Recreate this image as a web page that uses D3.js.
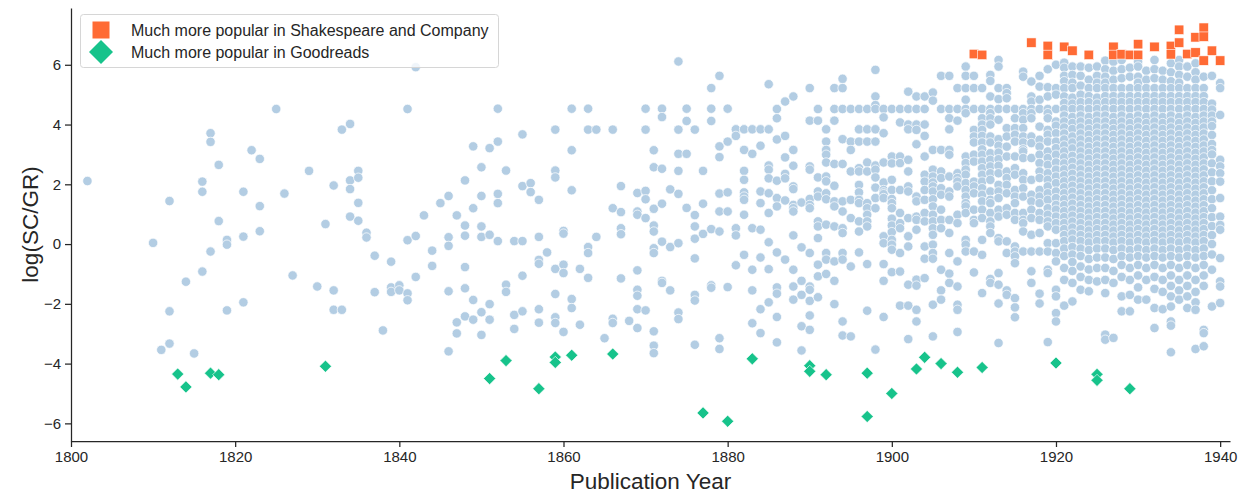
<!DOCTYPE html>
<html>
<head>
<meta charset="utf-8">
<script src="https://cdn.jsdelivr.net/npm/d3@7"></script>
<style>
  body { margin: 0; background: #fff; }
  text { font-family: "Liberation Sans", Arial, sans-serif; fill: #262626; }
</style>
</head>
<body>
<div id="chart"></div>
<script>
const xTicks = [1800, 1820, 1840, 1860, 1880, 1900, 1920, 1940];
const yTicks = [-6, -4, -2, 0, 2, 4, 6];
const legendLabels = ["Much more popular in Shakespeare and Company", "Much more popular in Goodreads"];

// [year, log(SC/GR)]
const scPoints = [
  [1910, 6.36], [1911, 6.33], [1917, 6.74], [1919, 6.63], [1919, 6.33], [1921, 6.6], [1922, 6.47],
  [1924, 6.33], [1927, 6.6], [1927, 6.33], [1928, 6.35], [1929, 6.33], [1930, 6.69], [1930, 6.33],
  [1932, 6.6], [1934, 6.63], [1934, 6.35], [1935, 7.17], [1935, 6.74], [1936, 6.36], [1937, 6.92],
  [1937, 6.41], [1938, 7.24], [1938, 6.94], [1938, 6.14], [1939, 6.47], [1940, 6.14]
];

const grPoints = [
  [1813, -4.35], [1814, -4.78], [1817, -4.32], [1818, -4.37], [1831, -4.09], [1851, -4.5], [1853, -3.9],
  [1857, -4.84], [1859, -3.78], [1859, -3.96], [1861, -3.72], [1866, -3.68], [1877, -5.65], [1880, -5.93],
  [1883, -3.84], [1890, -4.07], [1890, -4.26], [1892, -4.37], [1897, -4.32], [1897, -5.77], [1900, -5.0],
  [1903, -4.18], [1904, -3.79], [1906, -4.0], [1908, -4.29], [1911, -4.13], [1920, -3.98], [1925, -4.36],
  [1925, -4.56], [1929, -4.84]
];

// everything else: [year, [values]]
const otherPoints = [
  [1802, [2.11]], [1810, [0.04]], [1811, [-3.54]], [1812, [1.44, -2.25, -3.33]], [1814, [-1.26]],
  [1815, [-3.66]], [1816, [2.09, 1.75, -0.92]], [1817, [3.71, 3.42, -0.25]], [1818, [2.65, 0.77]],
  [1819, [0.14, -0.02, -2.22]], [1821, [1.75, 0.25, -1.95]], [1822, [3.14]], [1823, [2.85, 1.27, 0.43]],
  [1825, [4.52]], [1826, [1.69]], [1827, [-1.05]], [1829, [2.45]], [1830, [-1.42]], [1831, [0.67]],
  [1832, [1.96, -1.55, -2.2]], [1833, [3.83, -2.2]], [1834, [4.02, 2.13, 1.84, 0.92]],
  [1835, [2.45, 2.22, 1.38, 0.78]], [1836, [0.38, 0.22]], [1837, [-0.39, -1.61]], [1838, [-2.89]],
  [1839, [-0.59, -1.45, -1.6]], [1840, [-1.38, -1.55]], [1841, [4.52, 0.13, -1.65, -1.88]],
  [1842, [5.92, 0.27, -1.1]], [1843, [0.96]], [1844, [-0.22, -0.73]], [1845, [1.37]],
  [1846, [1.61, 0.23, -0.06, -1.58, -3.59]], [1847, [0.96, -2.62, -2.99]],
  [1848, [2.13, 0.62, 0.28, -0.77, -1.48, -2.42]], [1849, [3.27, 1.2, -1.87, -2.53]],
  [1850, [2.57, 1.61, 0.59, 0.24, -2.28, -3.04]], [1851, [3.21, 0.31, -2.01, -2.53]],
  [1852, [4.53, 3.43, 1.68, 1.37, 0.1]], [1853, [2.46, -1.36, -1.6]], [1854, [0.1, -2.37, -2.84]],
  [1855, [3.67, 1.94, 0.1, -1.06, -2.25]], [1856, [2.04, 1.74]],
  [1857, [1.48, 0.24, -0.53, -0.66, -2.18, -2.63]], [1858, [-0.28]],
  [1859, [3.83, 2.46, 2.23, -0.83, -1.67, -2.45, -2.64]], [1860, [0.44, 0.35, -0.69, -0.97, -2.94]],
  [1861, [4.53, 3.14, 1.8, -1.84, -2.14]], [1862, [-0.83, -2.7]], [1863, [4.53, 3.83, -0.1, -0.3, -1.13]],
  [1864, [3.83, 0.24]], [1865, [-3.15]], [1866, [3.83, 1.2, -2.5, -2.64]],
  [1867, [1.94, 1.07, 0.53, 0.33, -1.15]], [1868, [-2.57]],
  [1869, [1.71, 1.09, 0.98, -0.88, -1.53, -1.73, -2.18, -2.81]],
  [1870, [4.53, 3.83, 1.78, 1.5, 0.87, -2.22]],
  [1871, [3.14, 2.57, 1.18, 0.62, 0.42, -0.14, -0.3, -2.92, -3.4, -3.65]],
  [1872, [4.53, 4.25, 2.52, 1.35, 0.08, -1.23, -1.3]], [1873, [1.83, -0.1, -1.55]],
  [1874, [6.11, 3.83, 3.02, 2.45, 1.68, 0.03, -2.29, -2.51]], [1875, [4.53, 4.12, 3.02, 1.21]],
  [1876, [3.83, 0.97, 0.59, 0.18, -0.48, -1.7, -1.89, -3.37]], [1877, [2.45, 1.35, 0.34]],
  [1878, [5.22, 4.53, 4.12, 0.5, -1.38, -1.46]], [1879, [5.63, 3.27, 2.91, 1.69, 1.09, 0.42, -3.15, -3.51]],
  [1880, [4.53, 3.43, 1.73, 1.09, -1.44]], [1881, [3.84, 3.62, 0.53, 0.29, -0.71]],
  [1882, [3.84, 3.15, 2.45, 2.15, 1.73, 1.59, 1.48, 0.98, -0.36]],
  [1883, [3.84, 3.02, 0.53, -0.86, -1.55, -2.65]],
  [1884, [3.84, 3.29, 1.76, 1.37, 0.48, -0.45, -2.18, -2.98]],
  [1885, [5.35, 3.84, 2.63, 2.49, 2.2, 1.7, 1.04, 0.06, -0.84, -1.95]],
  [1886, [4.52, 4.21, 3.5, 2.12, 1.54, 1.26, -0.28, -1.45, -1.66, -2.44, -3.29]],
  [1887, [4.77, 3.62, 2.9, 2.35, 2.2, 1.46, -0.52]],
  [1888, [4.94, 3.15, 2.62, 1.93, 1.84, 1.31, 1.2, 1.09, 0.29, -0.86, -1.42, -1.86]],
  [1889, [1.39, -0.11, -1.23, -1.7, -2.75, -3.56]],
  [1890, [5.22, 4.13, 2.6, 2.49, 1.51, 1.31, 1.2, -0.3, -1.42, -1.53, -1.9, -2.39, -2.87]],
  [1891, [4.52, 4.13, 2.23, 1.76, 1.59, 0.76, 0.59, 0.2, -0.69, -1.08, -1.78]],
  [1892, [3.84, 3.43, 3.15, 2.99, 2.73, 2.26, 2.1, 1.7, 1.5, 0.65, -0.3, -0.52, -1.0]],
  [1893, [5.22, 4.52, 4.13, 2.68, 1.95, 1.43, 1.26, 0.59, -0.58, -1.23, -2.01]],
  [1894, [5.53, 5.22, 4.52, 3.51, 2.68, 1.43, 1.09, 0.53, 0.37, -0.3, -0.52, -2.59, -3.06]],
  [1895, [4.52, 3.43, 3.15, 2.43, 1.48, 0.87, -0.75, -3.09]],
  [1896, [4.52, 3.84, 3.43, 2.54, 2.43, 1.98, 1.73, 1.48, 1.37, 0.76, 0.42, -0.28]],
  [1897, [4.52, 3.84, 3.43, 2.73, 2.43, 1.37, 1.2, 0.98, 0.76, 0.59, -0.67, -2.23]],
  [1898, [5.83, 4.94, 4.65, 4.52, 3.84, 3.43, 2.63, 2.49, 2.23, 1.89, 1.54, 1.2, -3.53]],
  [1899, [4.52, 4.24, 3.71, 2.73, 2.06, 1.81, 1.73, 1.67, 1.54, 0.26, 0.03, -0.67, -1.23, -2.44]],
  [1900, [4.52, 2.93, 2.7, 2.15, 1.81, 1.51, 1.37, 1.2, 0.85, 0.62, 0.4, 0.14, -0.02, -0.19, -0.94]],
  [1901, [4.52, 4.07, 2.93, 2.71, 1.81, 1.04, 0.7, 0.53, -0.3, -0.92, -2.06]],
  [1902, [5.1, 4.52, 4.0, 3.84, 2.82, 2.43, 1.93, 1.76, 0.87, 0.26, -0.08, -1.36, -2.06, -3.18]],
  [1903, [4.94, 4.52, 4.0, 3.82, 3.34, 1.59, 1.43, 0.92, 0.81, 0.48, -1.19, -1.39, -2.2, -2.59]],
  [1904, [4.94, 4.52, 4.0, 3.62, 2.93, 2.32, 2.09, 1.81, 1.48, 1.04, 0.76, -0.08, -0.49, -1.14]],
  [1905, [5.07, 4.8, 3.15, 2.49, 2.26, 2.06, 1.93, 1.76, 1.5, 1.26, 0.98, 0.76, 0.53, 0.31, -0.02, -0.3, -0.49, -2.03, -3.09]],
  [1906, [5.63, 4.52, 3.15, 2.43, 2.21, 1.87, 1.65, 1.15, 0.81, 0.53, -0.86, -1.55, -1.86]],
  [1907, [5.63, 4.52, 4.21, 3.84, 3.15, 2.99, 2.26, 1.76, 1.59, 0.81, 0.37, -0.3, -0.99, -1.3]],
  [1908, [5.22, 4.52, 4.13, 2.37, 2.21, 2.09, 1.93, 0.98, 0.7, -0.58, -1.42, -2.03, -2.2, -2.94]],
  [1909, [5.94, 5.63, 5.22, 4.83, 4.52, 4.38, 2.93, 2.71, 2.49, 2.32, 2.04, 1.81, 1.59, 1.37, 1.26, 1.04, 0.14, -0.02, -0.25]],
  [1910, [5.63, 5.22, 4.52, 3.82, 3.6, 3.4, 2.99, 2.76, 2.09, 1.93, 1.7, 1.15, 0.81, 0.7, -0.25, -0.95]],
  [1911, [5.22, 4.52, 4.21, 4.0, 3.82, 3.62, 3.4, 3.17, 2.99, 2.76, 2.54, 2.32, 2.09, 1.87, 1.65, 1.43, 1.15, 0.87, 0.14, -0.36, -1.64]],
  [1912, [5.66, 5.46, 4.94, 4.52, 4.38, 4.21, 4.0, 3.6, 3.4, 3.04, 2.82, 2.6, 2.37, 2.15, 1.76, 1.48, 1.37, 1.04, 0.76, 0.59, 0.37, -1.17, -1.3]],
  [1913, [6.16, 5.94, 5.22, 4.85, 4.52, 4.16, 3.51, 3.29, 3.06, 2.84, 2.62, 2.37, 1.98, 1.76, 1.54, 1.15, 0.92, 0.2, 0.09, -0.97, -1.36, -1.99, -3.31]],
  [1914, [5.22, 5.05, 4.88, 4.52, 3.88, 3.6, 3.26, 2.93, 2.43, 2.21, 1.98, 1.7, 1.2, 0.98, 0.09, -0.3, -1.55, -1.7]],
  [1915, [4.52, 4.21, 3.88, 3.66, 3.43, 2.93, 2.54, 2.32, 1.81, 1.59, 1.37, 1.04, 0.81, -0.08, -0.25, -0.41, -0.64, -1.81, -2.12, -2.45]],
  [1916, [5.77, 5.6, 4.52, 4.38, 4.16, 3.88, 3.6, 3.4, 3.17, 3.1, 2.88, 2.37, 2.15, 1.87, 1.59, 1.04, 0.81, 0.7, 0.42, -0.25]],
  [1917, [5.44, 4.94, 4.77, 4.52, 4.38, 4.21, 3.6, 3.38, 2.88, 2.15, 1.65, 1.43, 1.15, 0.87, 0.31, -0.25, -0.91, -1.3]],
  [1918, [5.63, 5.27, 4.83, 4.52, 3.93, 3.49, 3.26, 2.99, 2.71, 2.43, 2.21, 1.81, 1.59, 1.37, 1.04, 0.81, 0.37, -0.25, -1.66, -1.99]],
  [1919, [5.85, 5.25, 4.94, 4.52, 4.38, 4.21, 3.82, 3.66, 3.43, 3.1, 2.88, 2.65, 2.37, 2.15, 1.93, 1.7, 1.48, 1.2, 0.98, 0.76, 0.59, 0.03, -0.25, -0.86, -0.97, -3.28]],
  [1920, [6.0, 5.22, 5.0, 4.52, 4.1, 3.96, 3.71, 3.43, 3.21, 2.99, 2.73, 2.49, 2.26, 2.04, 1.76, 1.54, 1.31, 1.15, 0.92, 0.7, 0.48, 0.03, -0.3, -0.58, -1.53, -1.75, -2.31, -2.59]],
  [1921, [6.07, 5.9, 5.63, 5.45, 5.22, 4.94, 4.72, 4.52, 4.3, 4.1, 3.9, 3.7, 3.5, 3.3, 3.1, 2.9, 2.7, 2.5, 2.3, 2.1, 1.9, 1.7, 1.5, 1.3, 1.1, 0.9, 0.7, 0.5, 0.3, 0.1, -0.15, -0.4, -0.8, -1.2, -2.06]],
  [1922, [5.94, 5.66, 5.4, 5.22, 4.9, 4.7, 4.52, 4.25, 4.05, 3.85, 3.6, 3.4, 3.2, 2.95, 2.75, 2.55, 2.35, 2.15, 1.95, 1.75, 1.55, 1.35, 1.15, 0.95, 0.75, 0.55, 0.35, 0.15, -0.1, -0.35, -0.6, -0.9, -1.3, -1.92]],
  [1923, [5.94, 5.63, 5.3, 5.0, 4.75, 4.52, 4.3, 4.1, 3.9, 3.7, 3.5, 3.3, 3.1, 2.9, 2.7, 2.5, 2.3, 2.1, 1.9, 1.7, 1.5, 1.3, 1.1, 0.9, 0.7, 0.5, 0.3, 0.1, -0.15, -0.4, -0.75, -1.1, -1.53]],
  [1924, [5.9, 5.5, 5.22, 4.95, 4.75, 4.52, 4.25, 4.05, 3.85, 3.65, 3.45, 3.25, 3.05, 2.85, 2.65, 2.45, 2.25, 2.05, 1.85, 1.65, 1.45, 1.25, 1.05, 0.85, 0.65, 0.45, 0.25, 0.05, -0.2, -0.5, -0.85, -1.2, -1.58]],
  [1925, [5.94, 5.63, 5.4, 5.22, 4.9, 4.7, 4.52, 4.3, 4.1, 3.9, 3.7, 3.5, 3.3, 3.1, 2.9, 2.7, 2.5, 2.3, 2.1, 1.9, 1.7, 1.5, 1.3, 1.1, 0.9, 0.7, 0.5, 0.3, 0.1, -0.15, -0.45, -0.8, -1.25]],
  [1926, [6.14, 5.85, 5.6, 5.4, 5.22, 4.95, 4.75, 4.52, 4.3, 4.1, 3.9, 3.7, 3.5, 3.3, 3.1, 2.9, 2.7, 2.5, 2.3, 2.1, 1.9, 1.7, 1.5, 1.3, 1.1, 0.9, 0.7, 0.5, 0.3, 0.1, -0.15, -0.45, -0.8, -1.2, -1.64, -3.03, -3.2]],
  [1927, [6.1, 5.8, 5.5, 5.22, 4.95, 4.75, 4.52, 4.25, 4.05, 3.85, 3.65, 3.45, 3.25, 3.05, 2.85, 2.65, 2.45, 2.25, 2.05, 1.85, 1.65, 1.45, 1.25, 1.05, 0.85, 0.65, 0.45, 0.25, 0.05, -0.2, -0.5, -0.9, -1.3, -3.14]],
  [1928, [6.16, 5.85, 5.55, 5.22, 4.95, 4.75, 4.52, 4.3, 4.1, 3.9, 3.7, 3.5, 3.3, 3.1, 2.9, 2.7, 2.5, 2.3, 2.1, 1.9, 1.7, 1.5, 1.3, 1.1, 0.9, 0.7, 0.5, 0.3, 0.1, -0.15, -0.4, -0.7, -1.1, -1.75, -2.25]],
  [1929, [5.9, 5.6, 5.22, 4.95, 4.75, 4.52, 4.25, 4.05, 3.85, 3.65, 3.45, 3.25, 3.05, 2.85, 2.65, 2.45, 2.25, 2.05, 1.85, 1.65, 1.45, 1.25, 1.05, 0.85, 0.65, 0.45, 0.25, 0.05, -0.2, -0.45, -0.8, -1.2, -1.7, -2.25]],
  [1930, [6.1, 5.94, 5.6, 5.4, 5.22, 4.95, 4.75, 4.52, 4.3, 4.1, 3.9, 3.7, 3.5, 3.3, 3.1, 2.9, 2.7, 2.5, 2.3, 2.1, 1.9, 1.7, 1.5, 1.3, 1.1, 0.9, 0.7, 0.5, 0.3, 0.1, -0.15, -0.4, -0.7, -1.05, -1.45, -1.86]],
  [1931, [5.8, 5.5, 5.22, 4.95, 4.75, 4.52, 4.25, 4.05, 3.85, 3.65, 3.45, 3.25, 3.05, 2.85, 2.65, 2.45, 2.25, 2.05, 1.85, 1.65, 1.45, 1.25, 1.05, 0.85, 0.65, 0.45, 0.25, 0.05, -0.2, -0.45, -0.8, -1.2, -1.86]],
  [1932, [6.16, 5.85, 5.55, 5.22, 4.95, 4.75, 4.52, 4.3, 4.1, 3.9, 3.7, 3.5, 3.3, 3.1, 2.9, 2.7, 2.5, 2.3, 2.1, 1.9, 1.7, 1.5, 1.3, 1.1, 0.9, 0.7, 0.5, 0.3, 0.1, -0.15, -0.4, -0.7, -1.1, -1.5, -2.14, -2.81]],
  [1933, [5.8, 5.5, 5.22, 4.95, 4.75, 4.52, 4.25, 4.05, 3.85, 3.65, 3.45, 3.25, 3.05, 2.85, 2.65, 2.45, 2.25, 2.05, 1.85, 1.65, 1.45, 1.25, 1.05, 0.85, 0.65, 0.45, 0.25, 0.05, -0.2, -0.45, -0.8, -1.2, -1.6, -2.18]],
  [1934, [6.05, 5.75, 5.45, 5.22, 4.95, 4.75, 4.52, 4.3, 4.1, 3.9, 3.7, 3.5, 3.3, 3.1, 2.9, 2.7, 2.5, 2.3, 2.1, 1.9, 1.7, 1.5, 1.3, 1.1, 0.9, 0.7, 0.5, 0.3, 0.1, -0.15, -0.4, -0.7, -1.05, -1.4, -1.75, -2.09, -2.59, -2.73, -3.62]],
  [1935, [6.16, 5.94, 5.66, 5.4, 5.22, 4.95, 4.75, 4.52, 4.25, 4.05, 3.85, 3.65, 3.45, 3.25, 3.05, 2.85, 2.65, 2.45, 2.25, 2.05, 1.85, 1.65, 1.45, 1.25, 1.05, 0.85, 0.65, 0.45, 0.25, 0.05, -0.2, -0.45, -0.8, -1.2, -1.55, -1.86]],
  [1936, [5.94, 5.6, 5.22, 4.95, 4.75, 4.52, 4.3, 4.1, 3.9, 3.7, 3.5, 3.3, 3.1, 2.9, 2.7, 2.5, 2.3, 2.1, 1.9, 1.7, 1.5, 1.3, 1.1, 0.9, 0.7, 0.5, 0.3, 0.1, -0.15, -0.4, -0.7, -1.05, -1.4, -1.75, -2.14]],
  [1937, [6.05, 5.75, 5.5, 5.22, 4.95, 4.75, 4.52, 4.25, 4.05, 3.85, 3.65, 3.45, 3.25, 3.05, 2.85, 2.65, 2.45, 2.25, 2.05, 1.85, 1.65, 1.45, 1.25, 1.05, 0.85, 0.65, 0.45, 0.25, 0.05, -0.2, -0.45, -0.8, -1.2, -1.6, -1.95, -2.2, -3.51]],
  [1938, [5.6, 5.22, 4.95, 4.75, 4.52, 4.3, 4.1, 3.9, 3.7, 3.5, 3.3, 3.1, 2.9, 2.7, 2.5, 2.3, 2.1, 1.9, 1.7, 1.5, 1.3, 1.1, 0.9, 0.7, 0.5, 0.3, 0.1, -0.15, -0.4, -0.7, -1.05, -1.4, -2.87, -2.98, -3.42]],
  [1939, [5.63, 4.7, 4.5, 4.3, 4.1, 3.95, 3.65, 3.35, 3.15, 3.0, 2.7, 2.4, 2.1, 1.8, 1.5, 1.2, 0.9, 0.6, 0.3, 0.0, -0.35, -0.86, -2.09]],
  [1940, [5.39, 5.22, 4.32, 2.82, 2.6, 2.37, 2.09, 1.54, 0.92, 0.64, 0.48, -0.47, -1.25, -1.42, -1.97]]
];

const width = 1247;
const height = 495;
const margin = { top: 8, right: 17, bottom: 54, left: 71 };

const x = d3.scaleLinear()
  .domain([1800, 1941.2])
  .range([margin.left, width - margin.right]);

const y = d3.scaleLinear()
  .domain([-6.59, 7.9])
  .range([height - margin.bottom, margin.top]);

const svg = d3.select("#chart")
  .append("svg")
  .attr("width", width)
  .attr("height", height);

// axes
const axisColor = "#262626";
const xAxis = svg.append("g")
  .attr("transform", `translate(0,${height - margin.bottom})`)
  .call(d3.axisBottom(x).tickValues(xTicks).tickFormat(d3.format("d")).tickSize(6).tickSizeOuter(0).tickPadding(4));

const yAxis = svg.append("g")
  .attr("transform", `translate(${margin.left},0)`)
  .call(d3.axisLeft(y).tickValues(yTicks).tickSize(6).tickSizeOuter(0).tickPadding(4));

[xAxis, yAxis].forEach(g => {
  g.select(".domain").attr("stroke", axisColor).attr("stroke-width", 1.25);
  g.selectAll(".tick line").attr("stroke", axisColor).attr("stroke-width", 1.25);
  g.selectAll(".tick text").attr("fill", axisColor).style("font-size", "15px").attr("font-family", null);
});

svg.append("text")
  .attr("x", (margin.left + width - margin.right) / 2)
  .attr("y", 489)
  .attr("text-anchor", "middle")
  .style("font-size", "22.5px")
  .text("Publication Year");

svg.append("text")
  .attr("transform", `translate(38,${(margin.top + height - margin.bottom) / 2}) rotate(-90)`)
  .attr("text-anchor", "middle")
  .style("font-size", "22.5px")
  .text("log(SC/GR)");

// other titles, light blue dots
const flat = otherPoints.flatMap(([yr, vals]) => vals.map(v => ({ year: yr, v })));
svg.append("g")
  .selectAll("circle")
  .data(flat)
  .join("circle")
  .attr("cx", d => x(d.year))
  .attr("cy", d => y(d.v))
  .attr("r", 4.7)
  .attr("fill", "#b3cde3")
  .attr("stroke", "#fff")
  .attr("stroke-width", 0.7);

const sq = 9.5;
svg.append("g")
  .selectAll("rect")
  .data(scPoints)
  .join("rect")
  .attr("x", d => x(d[0]) - sq / 2)
  .attr("y", d => y(d[1]) - sq / 2)
  .attr("width", sq)
  .attr("height", sq)
  .attr("fill", "#ff6b35")
  .attr("stroke", "#fff")
  .attr("stroke-width", 0.6);

const dm = 8.6;
svg.append("g")
  .selectAll("rect")
  .data(grPoints)
  .join("rect")
  .attr("x", -dm / 2)
  .attr("y", -dm / 2)
  .attr("width", dm)
  .attr("height", dm)
  .attr("transform", d => `translate(${x(d[0])},${y(d[1])}) rotate(45)`)
  .attr("fill", "#17c38b")
  .attr("stroke", "#fff")
  .attr("stroke-width", 0.6);

// legend
const legend = svg.append("g");
legend.append("rect")
  .attr("x", 80.5).attr("y", 14.5)
  .attr("width", 418).attr("height", 53)
  .attr("rx", 3)
  .attr("fill", "#fff")
  .attr("fill-opacity", 0.8)
  .attr("stroke", "#d6d6d6");

legend.append("rect")
  .attr("x", 101 - 8.5).attr("y", 30 - 8.5)
  .attr("width", 17).attr("height", 17)
  .attr("fill", "#ff6b35");

legend.append("rect")
  .attr("x", -8.5).attr("y", -8.5)
  .attr("width", 17).attr("height", 17)
  .attr("transform", "translate(101,52) rotate(45)")
  .attr("fill", "#17c38b");

legend.selectAll("text.lab")
  .data(legendLabels)
  .join("text")
  .attr("class", "lab")
  .attr("x", 131)
  .attr("y", (d, i) => 30 + i * 22)
  .attr("dy", "0.35em")
  .style("font-size", "16px")
  .text(d => d);
</script>
</body>
</html>
